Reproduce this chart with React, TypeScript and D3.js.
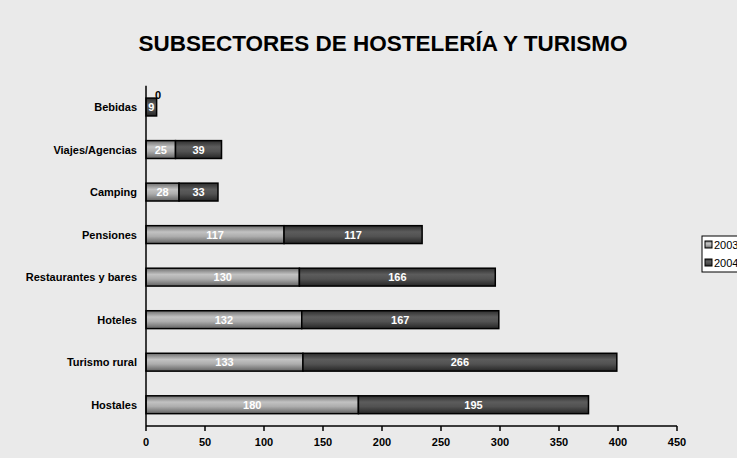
import React from "react";
import * as d3 from "d3";

const categories = ["Bebidas", "Viajes/Agencias", "Camping", "Pensiones", "Restaurantes y bares", "Hoteles", "Turismo rural", "Hostales"];
const values2003 = [0, 25, 28, 117, 130, 132, 133, 180];
const values2004 = [9, 39, 33, 117, 166, 167, 266, 195];
const seriesNames = ["2003", "2004"];
const xTicks = [0, 50, 100, 150, 200, 250, 300, 350, 400, 450];
const title = "SUBSECTORES DE HOSTELERÍA Y TURISMO";

export default function App() {
  const W = 737, H = 458;
  const left = 146, right = 677, top = 85.75, bottom = 426;
  const x = d3.scaleLinear().domain([0, 450]).range([left, right]);
  const y = d3.scaleBand().domain(categories).range([top, bottom]).paddingInner(0.58).paddingOuter(0.29);
  const bh = y.bandwidth();
  const font = "Liberation Sans, Arial, sans-serif";

  const rows = categories.map((c, i) => ({ c, a: values2003[i], b: values2004[i] }));

  return (
    <svg width={W} height={H} style={{ position: "absolute", left: 0, top: 0, background: "#eaeaea" }} fontFamily={font}>
      <defs>
        <linearGradient id="g2003" x1="0" y1="0" x2="0" y2="1">
          <stop offset="0" stopColor="#6e6e6e" />
          <stop offset="0.35" stopColor="#c2c2c2" />
          <stop offset="0.6" stopColor="#adadad" />
          <stop offset="1" stopColor="#626262" />
        </linearGradient>
        <linearGradient id="g2004" x1="0" y1="0" x2="0" y2="1">
          <stop offset="0" stopColor="#2e2e2e" />
          <stop offset="0.35" stopColor="#5c5c5c" />
          <stop offset="0.6" stopColor="#525252" />
          <stop offset="1" stopColor="#262626" />
        </linearGradient>
      </defs>
      <rect x={0} y={0} width={W} height={H} fill="#eaeaea" />
      <text x={383} y={51} textAnchor="middle" fontSize={22.5} fontWeight="bold" fill="#000">{title}</text>

      {rows.map((r) => {
        const y0 = y(r.c)!;
        const cy = y0 + bh / 2;
        return (
          <g key={r.c}>
            {r.a > 0 && (
              <rect x={x(0)} y={y0} width={x(r.a) - x(0)} height={bh} fill="url(#g2003)" stroke="#000" strokeWidth={1.5} />
            )}
            <rect x={x(r.a)} y={y0} width={x(r.a + r.b) - x(r.a)} height={bh} fill="url(#g2004)" stroke="#000" strokeWidth={1.5} />
            {r.a > 0 ? (
              <text x={(x(0) + x(r.a)) / 2} y={cy + 4} textAnchor="middle" fontSize={11} fontWeight="bold" fill="#fff">{r.a}</text>
            ) : (
              <text x={x(r.a) + 12} y={y0 + 1} textAnchor="middle" fontSize={11} fontWeight="bold" fill="#000">{r.a}</text>
            )}
            <text x={(x(r.a) + x(r.a + r.b)) / 2} y={cy + 4} textAnchor="middle" fontSize={11} fontWeight="bold" fill="#fff">{r.b}</text>
            <text x={137} y={cy + 4} textAnchor="end" fontSize={11} fontWeight="bold" fill="#000">{r.c}</text>
          </g>
        );
      })}

      <line x1={left} x2={left} y1={top} y2={bottom} stroke="#000" strokeWidth={1.5} />
      <line x1={left} x2={right} y1={bottom} y2={bottom} stroke="#000" strokeWidth={1.5} />
      {xTicks.map((t) => (
        <g key={t}>
          <line x1={x(t)} x2={x(t)} y1={bottom} y2={bottom + 5} stroke="#000" strokeWidth={1.5} />
          <text x={x(t)} y={bottom + 20} textAnchor="middle" fontSize={11} fontWeight="bold" fill="#000">{t}</text>
        </g>
      ))}

      <rect x={702} y={236} width={40} height={36} fill="#fff" stroke="#000" strokeWidth={1} />
      {seriesNames.map((s, i) => (
        <g key={s}>
          <rect x={705} y={241 + i * 18} width={7} height={7} fill={i === 0 ? "url(#g2003)" : "url(#g2004)"} stroke="#000" strokeWidth={1} />
          <text x={714} y={248.5 + i * 18} fontSize={11} fill="#000">{s}</text>
        </g>
      ))}
    </svg>
  );
}
